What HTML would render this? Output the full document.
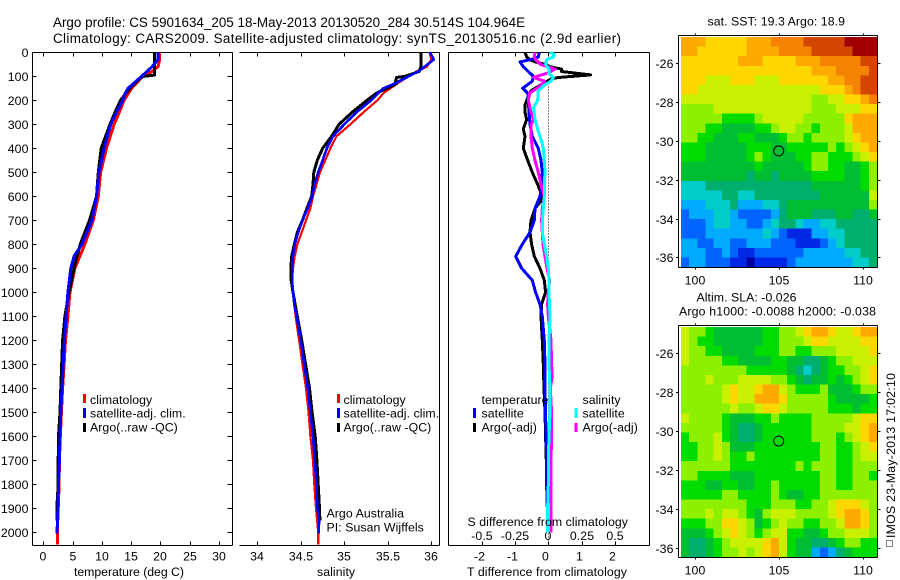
<!DOCTYPE html>
<html lang="en">
<head>
<meta charset="utf-8">
<title>Argo profile chart</title>
<style>
html,body{margin:0;padding:0;background:#fff;}
svg{display:block;}
text{font-family:"Liberation Sans",sans-serif;font-size:12.3px;fill:#000;letter-spacing:0.07px;}
.title{font-size:13.4px;letter-spacing:0;}
</style>
</head>
<body>
<svg id="chart" xmlns="http://www.w3.org/2000/svg" width="900" height="580" viewBox="0 0 900 580">
  <rect width="900" height="580" fill="#fff"/>
  <text class="title" x="53" y="27" textLength="472">Argo profile: CS 5901634_205 18-May-2013 20130520_284 30.514S 104.964E</text>
  <text class="title" x="53" y="43" textLength="568">Climatology: CARS2009. Satellite-adjusted climatology: synTS_20130516.nc (2.9d earlier)</text>

  <g id="maps"></g>
  <g id="panels"></g>

  <g>
    <rect x="83" y="394" width="3" height="9" fill="#f00"/>
    <rect x="83" y="408" width="3" height="10" fill="#00f"/>
    <rect x="83" y="423" width="3" height="9" fill="#000"/>
    <text x="90" y="404">climatology</text>
    <text x="90" y="417.5">satellite-adj. clim.</text>
    <text x="90" y="431.5">Argo(..raw -QC)</text>
  </g>
  <g>
    <rect x="337" y="394" width="3" height="9" fill="#f00"/>
    <rect x="337" y="408" width="3" height="10" fill="#00f"/>
    <rect x="337" y="423" width="3" height="9" fill="#000"/>
    <text x="343.5" y="404">climatology</text>
    <text x="343.5" y="417.5">satellite-adj. clim.</text>
    <text x="343.5" y="431.5">Argo(..raw -QC)</text>
    <text x="326.5" y="517.5">Argo Australia</text>
    <text x="326.5" y="531.5">PI: Susan Wijffels</text>
  </g>
  <g>
    <text x="481.5" y="404">temperature</text>
    <text x="582.5" y="404">salinity</text>
    <rect x="473" y="408" width="3" height="10" fill="#00f"/>
    <rect x="473" y="423" width="3" height="9" fill="#000"/>
    <rect x="574.5" y="408" width="3" height="10" fill="#0ff"/>
    <rect x="574.5" y="423" width="3" height="9" fill="#f0f"/>
    <text x="481.5" y="417.5">satellite</text>
    <text x="481.5" y="431.5">Argo(-adj)</text>
    <text x="582.5" y="417.5">satellite</text>
    <text x="582.5" y="431.5">Argo(-adj)</text>
  </g>

  <text x="74" y="576" textLength="110">temperature (deg C)</text>
  <text x="317" y="576">salinity</text>
  <text x="467.5" y="526" textLength="160.5">S difference from climatology</text>
  <text x="467" y="576" textLength="160">T difference from climatology</text>

  <text x="707.5" y="25.5" textLength="137.5">sat. SST: 19.3 Argo: 18.9</text>
  <text x="696.5" y="301.5" textLength="100">Altim. SLA: -0.026</text>
  <text x="679" y="315.5" textLength="197">Argo h1000: -0.0088 h2000: -0.038</text>

  <rect x="886.5" y="540.5" width="6" height="6" fill="none" stroke="#000" stroke-width="1" stroke-dasharray="1 1" shape-rendering="crispEdges"/>
  <text transform="translate(895,538) rotate(-90)" x="0" y="0" textLength="165">IMOS 23-May-2013 17:02:10</text>
</svg>

<script>
// ---------- Panel 1: temperature ----------
const tempClimDepth = [0,30,60,80,90,100,150,200,250,300,400,500,600,700,800,900,1000,1100,1200,1300,1400,1500,1600,1700,1800,1900,2000,2050];
const tempClimValues = [19.9,19.9,19.6,18.6,17.8,17.0,15.1,13.8,13.0,12.1,10.8,9.8,9.4,8.55,7.1,5.4,4.55,4.2,3.8,3.55,3.3,3.1,2.9,2.75,2.7,2.55,2.4,2.4];
const tempArgoDepth = [0,30,60,95,100,105,150,200,250,300,400,500,600,700,800,900,1000,1100,1200,1300,1400,1500,1600,1700,1800,1900,1950];
const tempArgoValues = [19.0,19.0,19.0,19.0,17.2,16.6,14.8,13.2,12.25,11.4,9.9,9.4,9.1,7.9,6.3,5.25,4.4,3.7,3.3,3.15,3.0,2.85,2.6,2.55,2.55,2.3,2.3];
const tempSatDepth = [0,30,60,100,150,170,200,250,300,400,500,600,700,800,850,900,1000,1100,1200,1300,1400,1500,1600,1700,1800,1900,2005];
const tempSatValues = [19.6,19.6,18.6,16.8,14.5,14.0,13.6,12.5,11.5,10.4,9.5,9.1,8.3,6.6,5.25,4.7,4.2,3.9,3.6,3.4,3.2,3.0,2.85,2.75,2.6,2.5,2.35];

// ---------- Panel 2: salinity ----------
const salClimDepth = [0,30,60,80,100,130,170,200,250,300,350,400,450,500,550,600,650,700,750,800,850,900,950,1000,1100,1200,1300,1400,1500,1600,1700,1800,1900,2000,2050];
const salClimValues = [35.98,36.0,35.95,35.83,35.74,35.61,35.45,35.38,35.22,35.07,34.91,34.84,34.78,34.72,34.68,34.64,34.61,34.56,34.51,34.46,34.43,34.41,34.4,34.41,34.44,34.48,34.52,34.56,34.59,34.61,34.64,34.655,34.675,34.7,34.7];
const salArgoDepth = [0,60,80,100,105,122,130,150,170,200,250,300,350,400,450,500,550,600,650,700,750,800,850,900,950,1000,1100,1200,1300,1400,1500,1600,1700,1800,1900,1950];
const salArgoValues = [35.88,35.88,35.86,35.7,35.6,35.59,35.6,35.49,35.37,35.26,35.09,34.94,34.855,34.75,34.69,34.65,34.64,34.625,34.57,34.52,34.46,34.425,34.395,34.385,34.39,34.41,34.46,34.51,34.555,34.6,34.63,34.665,34.685,34.7,34.715,34.72];
const salSatDepth = [0,30,80,100,130,150,170,200,250,300,350,400,450,500,550,600,650,700,750,800,850,900,950,1000,1050,1100,1200,1300,1400,1500,1600,1700,1800,1900,1950,2005];
const salSatValues = [35.98,36.03,35.85,35.74,35.58,35.45,35.39,35.31,35.14,35.0,34.87,34.8,34.75,34.7,34.66,34.63,34.58,34.52,34.47,34.43,34.41,34.4,34.4,34.41,34.425,34.45,34.5,34.54,34.58,34.61,34.64,34.66,34.68,34.69,34.71,34.705];

// ---------- Panel 3: differences ----------
const diffTArgoDepth = [0,20,30,40,50,60,70,80,94,105,110,150,160,200,220,250,280,300,320,350,400,450,500,550,600,620,650,700,750,800,850,900,950,1000,1050,1100,1200,1300,1400,1500,1600,1700,1800,1900,1950];
const diffTArgoValues = [-0.7,-0.65,-0.55,-0.4,-0.1,0.05,0.4,0.4,1.27,0.3,0.1,-0.4,-0.52,-0.65,-0.7,-0.7,-0.65,-0.7,-0.75,-0.7,-0.75,-0.62,-0.48,-0.32,-0.18,-0.22,-0.4,-0.52,-0.55,-0.5,-0.42,-0.25,-0.12,-0.08,-0.2,-0.22,-0.18,-0.15,-0.13,-0.1,-0.08,-0.06,-0.05,-0.03,-0.03];
const diffTSatDepth = [0,20,30,40,60,80,100,120,150,170,200,250,300,350,400,450,500,550,600,650,700,750,800,850,900,950,1000,1050,1100,1200,1300,1400,1500,1600,1700,1800,1900,2000];
const diffTSatValues = [-0.27,-0.3,-0.52,-0.85,-0.75,-0.6,-0.45,-0.48,-0.77,-0.62,-0.6,-0.58,-0.55,-0.48,-0.3,-0.22,-0.18,-0.2,-0.25,-0.4,-0.42,-0.55,-0.78,-0.98,-0.8,-0.48,-0.38,-0.25,-0.18,-0.12,-0.1,-0.1,-0.08,-0.07,-0.05,-0.05,-0.03,-0.03];
const diffSArgoDepth = [0,20,30,50,70,85,105,120,140,170,200,250,280,300,350,400,450,500,550,600,650,700,750,800,850,900,950,1000,1050,1100,1200,1300,1350,1400,1500,1600,1700,1800,1900,2000];
const diffSArgoValues = [-0.1,-0.105,-0.095,-0.06,0.05,0,-0.11,-0.03,-0.06,-0.14,-0.15,-0.13,-0.11,-0.13,-0.13,-0.12,-0.1,-0.075,-0.055,-0.03,-0.045,-0.05,-0.045,-0.04,-0.025,-0.01,0.01,0,-0.005,0,0.02,0.025,0.03,0.015,0.025,0.025,0.02,0.02,0.02,0.02];
const diffSSatDepth = [0,10,20,30,50,70,90,105,120,135,160,200,230,280,320,370,400,450,500,550,600,650,700,750,800,850,900,950,1000,1100,1200,1300,1400,1500,1600,1700,1800,1900,2000];
const diffSSatValues = [0.0125,0.045,0.0375,-0.0125,-0.02,0.005,0.005,0.0375,0.02,-0.025,-0.075,-0.08,-0.11,-0.1,-0.08,-0.05,-0.0375,-0.03,-0.025,-0.03,-0.03,-0.0375,-0.045,-0.045,-0.03,-0.0125,0,0.005,0.005,0.0125,0.005,0.005,0.0125,0.0125,0.005,0,0,-0.005,-0.005];

// ---------- Tick labels ----------
const depthTicks = [0,100,200,300,400,500,600,700,800,900,1000,1100,1200,1300,1400,1500,1600,1700,1800,1900,2000];
const tempTicks = [0,5,10,15,20,25,30];
const salTicks = [34,34.5,35,35.5,36];
const diffTTicks = [-2,-1,0,1,2];
const diffSTicks = [-0.5,-0.25,0,0.25,0.5];
const lonTicks = [100,105,110];
const latTicks = [26,28,30,32,34,36];
const profileLon = 104.964;
const profileLat = 30.514;

// ---------- Map cells: colour level per cell (rows north to south) ----------
const sstLevels = [
[11,11,11,10,10,10,10,10,11,11,11,12,12,12,12,13,13,13,13,13,14,14,14,14],
[11,11,10,10,10,10,10,10,11,11,11,11,12,12,12,12,13,13,13,13,13,14,14,14],
[10,10,10,10,10,10,10,11,11,11,10,10,10,10,11,11,11,12,12,12,12,12,13,13],
[10,10,10,10,10,10,10,10,10,10,10,10,10,10,10,10,11,11,11,12,12,12,12,13],
[10,10,10,9,9,9,10,10,10,9,9,9,10,10,10,10,10,10,11,11,12,12,13,13],
[10,10,9,9,9,9,9,9,9,9,9,9,9,9,9,9,9,10,10,10,11,12,13,13],
[9,9,9,9,9,9,9,9,9,9,9,9,9,9,9,9,8,8,9,9,10,10,11,12],
[8,8,8,8,9,9,9,9,9,9,9,9,9,9,9,9,8,8,8,9,9,9,10,10],
[8,8,8,8,8,7,7,7,7,8,9,9,9,9,9,8,8,8,8,8,10,11,11,11],
[8,8,8,7,7,6,6,6,6,7,7,8,9,9,8,8,7,8,8,8,9,11,11,11],
[8,8,7,7,6,6,6,7,7,6,6,6,7,8,8,7,8,8,8,8,9,10,11,11],
[7,7,7,6,6,6,6,6,7,7,7,6,6,7,7,7,7,7,8,7,8,9,10,11],
[7,7,7,6,6,6,6,6,7,8,7,6,6,6,7,7,8,8,7,7,7,8,9,10],
[6,6,6,6,6,6,6,6,6,7,6,6,6,6,6,7,8,8,7,7,6,6,7,8],
[6,6,6,6,6,6,6,6,5,6,6,5,6,6,6,6,7,7,7,7,6,6,7,8],
[4,4,4,5,5,5,5,5,5,5,5,5,5,5,5,5,6,6,6,6,6,6,7,8],
[4,4,4,4,4,5,5,4,4,5,5,5,5,5,5,5,5,6,6,6,6,6,6,9],
[3,3,3,4,4,4,5,3,3,3,4,4,5,6,6,6,6,6,6,6,6,6,6,8],
[2,3,3,3,4,4,3,2,2,2,2,3,5,6,6,6,5,5,5,6,6,5,5,6],
[2,2,2,3,4,4,3,3,2,2,3,4,5,5,4,3,3,4,4,5,5,5,5,5],
[2,2,2,3,3,3,3,3,3,3,4,3,2,1,1,1,3,3,4,4,5,5,5,5],
[3,3,2,2,3,3,2,2,3,3,3,2,2,2,1,1,1,2,3,4,5,5,5,5],
[3,3,3,2,2,3,2,1,1,2,2,2,2,2,2,3,3,3,3,3,4,4,5,5],
[2,3,3,2,2,2,1,1,0,1,1,1,1,2,3,3,3,3,3,3,3,4,4,5]
];
const slaLevels = [
[9,8,8,7,6,6,6,6,6,6,7,7,8,8,9,10,11,11,10,9,9,10,11,11],
[9,8,7,7,6,6,6,6,6,6,7,7,8,8,8,9,10,10,9,9,9,9,10,10],
[9,8,8,7,7,6,6,6,6,7,7,7,8,8,7,7,8,8,8,9,9,9,9,10],
[9,8,8,8,8,7,7,6,6,6,6,7,7,6,6,5,5,6,7,8,8,9,9,9],
[8,8,8,8,8,8,8,8,7,7,7,7,7,6,5,4,5,6,7,7,8,8,9,10],
[8,8,8,9,8,8,8,9,9,9,9,8,8,7,6,5,6,6,7,6,7,8,9,10],
[8,8,8,8,8,9,10,9,9,10,11,11,9,8,7,7,7,8,6,6,6,7,8,8],
[8,8,8,8,8,9,10,9,9,11,11,11,10,8,8,8,8,8,7,6,6,6,6,7],
[8,8,8,8,8,8,9,8,8,9,10,10,9,8,8,8,8,8,7,7,7,6,7,7],
[9,8,8,8,8,7,6,6,6,7,7,8,7,7,7,7,8,8,8,8,8,9,10,10],
[8,8,8,8,8,7,6,5,5,6,7,7,7,7,7,7,8,8,8,8,9,9,10,11],
[7,8,8,8,9,7,6,5,5,6,7,7,7,7,7,7,8,8,8,7,8,9,10,11],
[7,7,8,8,9,8,6,6,6,7,7,7,7,7,7,7,7,8,8,7,7,8,9,10],
[7,7,8,8,9,8,7,7,8,7,7,7,7,7,7,7,7,8,8,7,7,8,9,9],
[8,8,8,8,8,8,7,7,7,7,7,7,7,7,8,7,8,8,8,7,7,8,8,8],
[8,8,7,7,7,7,6,6,6,7,7,7,7,7,7,7,7,8,8,7,7,8,8,7],
[7,7,7,6,6,7,7,6,6,7,7,8,7,7,7,7,7,8,8,7,7,8,8,8],
[7,7,7,7,7,8,8,7,7,7,7,8,7,6,6,7,7,8,8,8,8,8,8,8],
[8,8,8,8,8,8,8,8,7,7,7,8,8,8,7,7,8,8,9,10,10,10,9,8],
[8,8,8,9,8,9,9,8,7,6,8,9,9,9,8,8,8,8,9,10,11,11,10,8],
[7,7,7,8,8,10,10,9,8,6,7,8,9,8,8,7,7,8,8,9,11,11,10,8],
[6,6,6,7,8,9,10,9,8,7,8,9,9,7,7,6,6,7,8,8,9,9,9,8],
[6,5,5,6,7,8,9,9,9,9,10,11,9,7,6,6,5,5,6,7,8,8,7,7],
[6,5,5,6,7,8,8,9,8,9,10,11,9,7,6,6,3,2,3,5,6,7,7,7]
];

const SVG_NS = 'http://www.w3.org/2000/svg';
const panelsLayer = document.getElementById('panels');
const mapsLayer = document.getElementById('maps');

function levelColor(level){
  const ramp = ['#0000a0','#0028e6','#0064ff','#00aaff','#00cdc8','#00af6e','#00be32','#00dc00','#8cf000','#c8f000','#ffd700','#ffaa00','#f58200','#d24600','#a00000'];
  const i = Math.max(0, Math.min(ramp.length - 1, Math.round(level * ramp.length / 15)));
  return ramp[i];
}

function makeLine(parent, name, x1, y1, x2, y2, color, dash){
  const el = document.createElementNS(SVG_NS, 'line');
  
  
  el.setAttribute('x1', x1);
  el.setAttribute('y1', y1);
  el.setAttribute('x2', x2);
  el.setAttribute('y2', y2);
  el.setAttribute('stroke', color || '#000');
  el.setAttribute('stroke-width', '1');
  el.setAttribute('shape-rendering', 'crispEdges');
  if (dash) el.setAttribute('stroke-dasharray', dash);
  parent.appendChild(el);
  return el;
}

function makeLabel(parent, name, x, y, anchor, str){
  const el = document.createElementNS(SVG_NS, 'text');
  
  
  el.setAttribute('x', x);
  el.setAttribute('y', y);
  el.setAttribute('text-anchor', anchor);
  el.textContent = str;
  parent.appendChild(el);
  return el;
}

function makeSeries(parent, name, depths, values, xFn, yFn, color, width){
  const el = document.createElementNS(SVG_NS, 'polyline');
  
  
  el.setAttribute('points', depths.map(function(d, i){ return xFn(values[i]).toFixed(1) + ',' + yFn(d).toFixed(1); }).join(' '));
  el.setAttribute('fill', 'none');
  el.setAttribute('stroke', color);
  el.setAttribute('stroke-width', width);
  el.setAttribute('stroke-linejoin', 'round');
  el.setAttribute('shape-rendering', 'crispEdges');
  parent.appendChild(el);
  return el;
}

// Profile axes
const depthY = function(d){ return 52.3 + d * 0.24; };
const tempX = function(v){ return 43.3 + v * 5.85; };
const salX = function(v){ return 257.3 + (v - 34) * 87; };
const diffTX = function(v){ return 548.3 + v * 33.3; };
const diffSX = function(v){ return 548.3 + v * 133.2; };
const PANEL_TOP = 52.5;
const PANEL_BOTTOM = 545.5;

function frame(name, left, right, hasLeft){
  makeLine(panelsLayer, name + '-top-axis', left, PANEL_TOP, right, PANEL_TOP);
  makeLine(panelsLayer, name + '-bottom-axis', left, PANEL_BOTTOM, right, PANEL_BOTTOM);
  makeLine(panelsLayer, name + '-right-axis', right, PANEL_TOP, right, PANEL_BOTTOM);
  if (hasLeft) makeLine(panelsLayer, name + '-left-axis', left, PANEL_TOP, left, PANEL_BOTTOM);
}

function xTicks(name, ticks, xFn, labelY, labelFmt){
  ticks.forEach(function(t){
    const px = Math.round(xFn(t)) + 0.5;
    makeLine(panelsLayer, name + '-top-tick', px, PANEL_TOP, px, PANEL_TOP + 4);
    makeLine(panelsLayer, name + '-bottom-tick', px, PANEL_BOTTOM, px, PANEL_BOTTOM - 4);
    makeLabel(panelsLayer, name + '-tick-label', px - 0.5, labelY, 'middle', labelFmt ? labelFmt(t) : String(t));
  });
}

// Panel 1
frame('temperature-panel', 32.5, 232.5, true);
depthTicks.forEach(function(d){
  const py = Math.round(depthY(d)) + 0.5;
  makeLine(panelsLayer, 'depth-left-tick', 32.5, py, 36.5, py);
  makeLine(panelsLayer, 'depth-right-tick', 232.5, py, 227.5, py);
  makeLabel(panelsLayer, 'depth-tick-label', 28.5, py + 4.5, 'end', String(d));
});
xTicks('temperature', tempTicks, tempX, 560.5);
makeSeries(panelsLayer, 'temperature-climatology-line', tempClimDepth, tempClimValues, tempX, depthY, '#f00', 3);
makeSeries(panelsLayer, 'temperature-argo-line', tempArgoDepth, tempArgoValues, tempX, depthY, '#000', 3);
makeSeries(panelsLayer, 'temperature-satellite-line', tempSatDepth, tempSatValues, tempX, depthY, '#00f', 3);

// Panel 2
frame('salinity-panel', 239.5, 439.5, false);
xTicks('salinity', salTicks, salX, 560.5);
makeSeries(panelsLayer, 'salinity-climatology-line', salClimDepth, salClimValues, salX, depthY, '#f00', 2.2);
makeSeries(panelsLayer, 'salinity-argo-line', salArgoDepth, salArgoValues, salX, depthY, '#000', 3);
makeSeries(panelsLayer, 'salinity-satellite-line', salSatDepth, salSatValues, salX, depthY, '#00f', 2.6);

// Panel 3
frame('difference-panel', 448.5, 649.5, true);
diffTTicks.forEach(function(t){
  const px = Math.round(diffTX(t)) + 0.5;
  makeLine(panelsLayer, 'difference-top-tick', px, PANEL_TOP, px, PANEL_TOP + 4);
  makeLine(panelsLayer, 'difference-bottom-tick', px, PANEL_BOTTOM, px, PANEL_BOTTOM - 4);
  makeLabel(panelsLayer, 't-difference-tick-label', px - 3, 560.5, 'middle', String(t));
});
diffSTicks.forEach(function(s){
  const px = Math.round(diffSX(s));
  makeLabel(panelsLayer, 's-difference-tick-label', px, 540, 'middle', String(s));
});
makeLine(panelsLayer, 'zero-difference-line', 548.5, depthY(130), 548.5, PANEL_BOTTOM, '#000', '1 2');
makeSeries(panelsLayer, 'diff-t-argo-line', diffTArgoDepth, diffTArgoValues, diffTX, depthY, '#000', 3);
makeSeries(panelsLayer, 'diff-t-satellite-line', diffTSatDepth, diffTSatValues, diffTX, depthY, '#00f', 3);
makeSeries(panelsLayer, 'diff-s-argo-line', diffSArgoDepth, diffSArgoValues, diffSX, depthY, '#f0f', 3);
makeSeries(panelsLayer, 'diff-s-satellite-line', diffSSatDepth, diffSSatValues, diffSX, depthY, '#0ff', 3);

// Maps
function drawMap(name, levels, top, bottom, yFn){
  const lonX = function(lon){ return 695.3 + (lon - 100) * 16.8; };
  const imgLeft = 681;
  const imgRight = 877;
  const cols = levels[0].length;
  const rows = levels.length;
  levels.forEach(function(row, r){
    row.forEach(function(level, c){
      const cell = document.createElementNS(SVG_NS, 'rect');
      
      
      const x0 = imgLeft + (imgRight - imgLeft) * c / cols;
      const x1 = imgLeft + (imgRight - imgLeft) * (c + 1) / cols;
      const y0 = top + (bottom - top) * r / rows;
      const y1 = top + (bottom - top) * (r + 1) / rows;
      cell.setAttribute('x', x0.toFixed(2));
      cell.setAttribute('y', y0.toFixed(2));
      cell.setAttribute('width', (x1 - x0 + 0.6).toFixed(2));
      cell.setAttribute('height', (y1 - y0 + 0.6).toFixed(2));
      cell.setAttribute('fill', levelColor(level));
      cell.setAttribute('shape-rendering', 'crispEdges');
      mapsLayer.appendChild(cell);
    });
  });
  const frameTop = Math.floor(top) - 1.5;
  const frameBottom = Math.round(bottom) + 0.5;
  makeLine(mapsLayer, name + '-top-axis', 678.5, frameTop, 877.5, frameTop);
  makeLine(mapsLayer, name + '-bottom-axis', 678.5, frameBottom, 877.5, frameBottom);
  makeLine(mapsLayer, name + '-left-axis', 678.5, frameTop, 678.5, frameBottom);
  makeLine(mapsLayer, name + '-right-axis', 877.5, frameTop, 877.5, frameBottom);
  lonTicks.forEach(function(lon){
    const px = Math.round(lonX(lon)) + 0.5;
    makeLine(mapsLayer, name + '-lon-top-tick', px, frameTop - 2, px, frameTop);
    makeLine(mapsLayer, name + '-lon-bottom-tick', px, frameBottom, px, frameBottom + 2);
    makeLabel(mapsLayer, name + '-lon-tick-label', px - 0.5, frameBottom + 17, 'middle', String(lon));
  });
  latTicks.forEach(function(lat){
    const py = Math.round(yFn(lat)) + 0.5;
    makeLine(mapsLayer, name + '-lat-left-tick', 676, py, 678.5, py);
    makeLine(mapsLayer, name + '-lat-right-tick', 877.5, py, 880.5, py);
    makeLabel(mapsLayer, name + '-lat-tick-label', 673.5, py + 4.5, 'end', '-' + lat);
  });
  const marker = document.createElementNS(SVG_NS, 'circle');
  
  
  marker.setAttribute('cx', lonX(profileLon).toFixed(1));
  marker.setAttribute('cy', yFn(profileLat).toFixed(1));
  marker.setAttribute('r', '5');
  marker.setAttribute('fill', 'none');
  marker.setAttribute('stroke', '#000');
  marker.setAttribute('stroke-width', '1');
  mapsLayer.appendChild(marker);
}
drawMap('sst-map', sstLevels, 37, 267, function(lat){ return 63.3 + (lat - 26) * 19.4; });
drawMap('sla-map', slaLevels, 327, 557, function(lat){ return 353.3 + (lat - 26) * 19.44; });
</script>
</body>
</html>
